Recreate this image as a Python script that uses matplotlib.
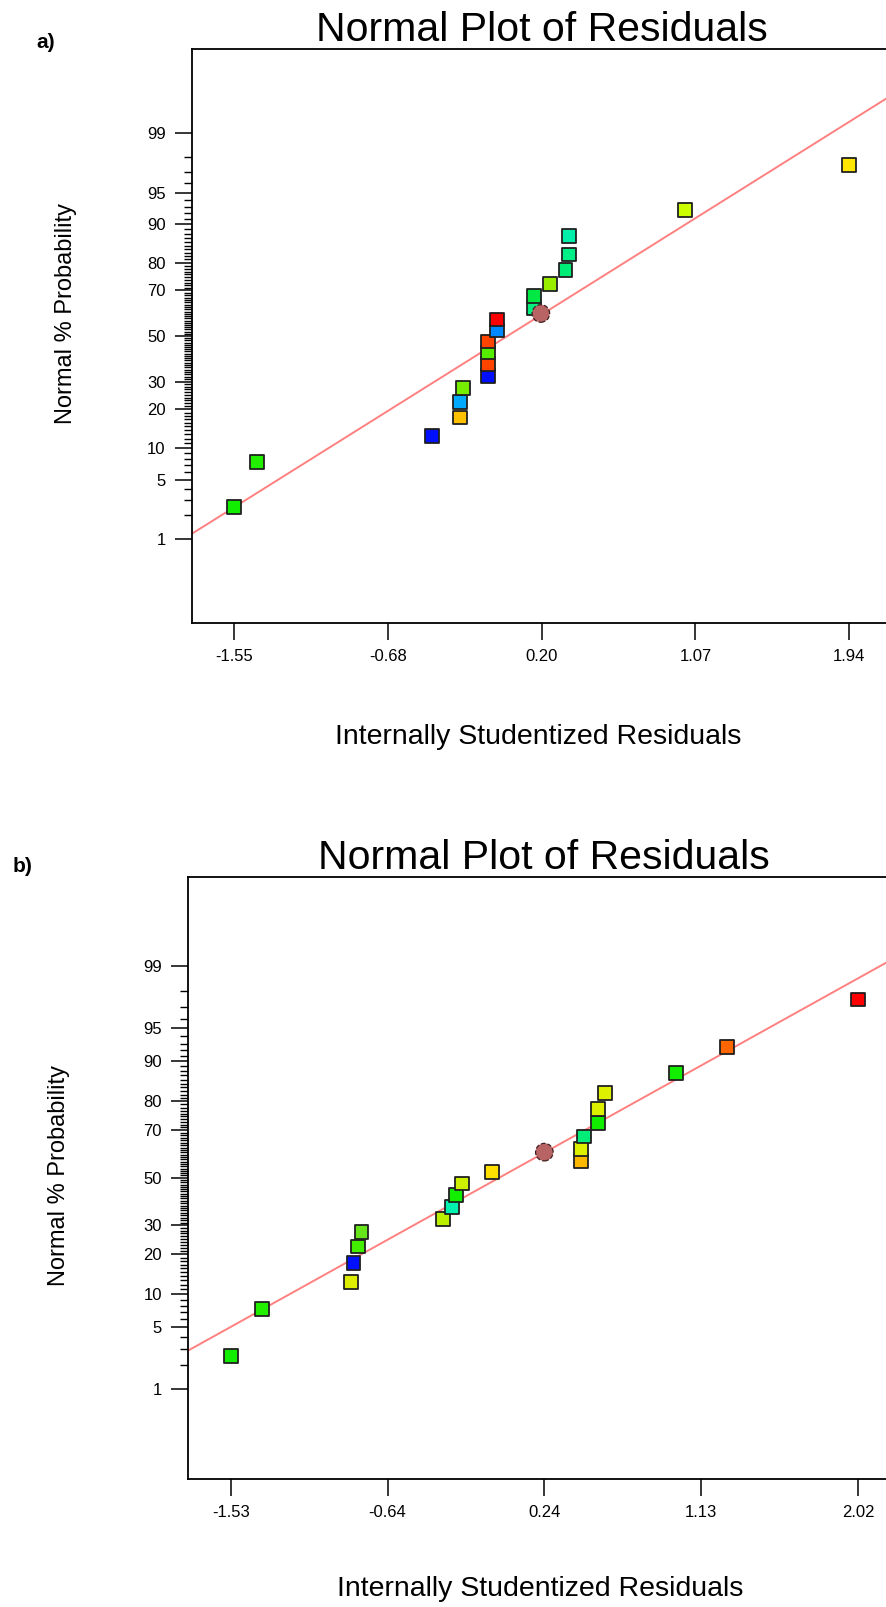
import numpy as np
import matplotlib.pyplot as plt
from statistics import NormalDist

plt.rcParams['font.family'] = ['Liberation Sans', 'DejaVu Sans']

# percent probability ticks of the normal scale
major_pct = [1, 5, 10, 20, 30, 50, 70, 80, 90, 95, 99]
major_lbl = ['1', '5', '10', '20', '30', '50', '70', '80', '90', '95', '99']

# a) studentized residuals (sorted) and run colours
res_a = [-1.55, -1.42, -0.43, -0.27, -0.27, -0.25, -0.11, -0.11, -0.11, -0.11,
         -0.06, -0.06, 0.15, 0.15, 0.24, 0.33, 0.35, 0.35, 1.01, 1.94]
col_a = ['#11ee00', '#22ee00', '#0010ff', '#ffc000', '#00aaff', '#77ee00', '#0010ff',
         '#ff4400', '#55ee00', '#ff4400', '#0088ff', '#ff0000', '#00f080', '#00e844',
         '#99ee00', '#00ee77', '#00ee88', '#00eeaa', '#ccff00', '#ffe600']
xtick_a = ['-1.55', '-0.68', '0.20', '1.07', '1.94']
circ_a = (0.19, 60.2)
fit_a = (0.0, 0.79)     # mean, sd of the reference line

# b)
res_b = [-1.53, -1.355, -0.85, -0.835, -0.81, -0.79, -0.33, -0.28, -0.255, -0.22,
         -0.05, 0.45, 0.45, 0.47, 0.55, 0.55, 0.59, 0.99, 1.28, 2.02]
col_b = ['#11ee00', '#22ee00', '#ddee00', '#0010ff', '#44ee00', '#66e61a', '#bbf000',
         '#00f0b0', '#11ee00', '#ccf000', '#ffe000', '#ffb800', '#ddf000', '#00ee77',
         '#11ee00', '#ddf000', '#ddf000', '#11ee00', '#ff6600', '#ff0000']
xtick_b = ['-1.53', '-0.64', '0.24', '1.13', '2.02']
circ_b = (0.245, 61.1)
fit_b = (-0.011, 0.926)

nd = NormalDist()


def z(p):
    return np.array([nd.inv_cdf(v / 100.0) for v in np.atleast_1d(p)])


def panel(ax, res, cols, xlabels, circ, fit, zlim, pad_x, title_pad):
    n = len(res)
    pct = (np.arange(1, n + 1) - 0.5) / n * 100
    xt = np.linspace(res[0], res[-1], 5)
    xmin, xmax = res[0] - pad_x, res[-1] + pad_x

    xl = np.array([xmin, xmax])
    ax.plot(xl, (xl - fit[0]) / fit[1], color='#ff8080', lw=1.4, zorder=2)
    ax.scatter(res, z(pct), marker='s', s=100, c=cols, edgecolors='#202020',
               linewidths=1.3, zorder=3)
    ax.scatter([circ[0]], z(circ[1]), marker='o', s=160, c='#b86464',
               edgecolors='#402020', linewidths=0.9, linestyle='--', zorder=4)

    ax.set_xlim(xmin, xmax)
    ax.set_ylim(-zlim, zlim)
    ax.set_xticks(xt)
    ax.set_xticklabels(xlabels)
    ax.set_yticks(z(major_pct))
    ax.set_yticklabels(major_lbl)
    minor = [p for p in range(2, 99) if p not in major_pct]
    ax.set_yticks(z(minor), minor=True)
    ax.tick_params(axis='both', which='major', length=12, width=1.1, pad=7,
                   labelsize=12, direction='out')
    ax.tick_params(axis='y', which='minor', length=6, width=1.0, direction='out')
    ax.spines['right'].set_visible(False)
    for s in ['left', 'bottom', 'top']:
        ax.spines[s].set_linewidth(1.3)
    ax.set_title('Normal Plot of Residuals', fontsize=29.5, pad=title_pad)
    ax.set_xlabel('Internally Studentized Residuals', fontsize=20.5)
    ax.set_ylabel('Normal % Probability', fontsize=17)


fig = plt.figure(figsize=(8.86, 16.07), dpi=100)

ax1 = fig.add_axes([0.2167, 0.6123, 0.7895, 0.3572])
panel(ax1, res_a, col_a, xtick_a, circ_a, fit_a, 3.29, 0.24, 4.5)
ax1.yaxis.set_label_coords(-0.164, 0.54)
ax1.xaxis.set_label_coords(0.495, -0.176)

ax2 = fig.add_axes([0.2125, 0.0798, 0.8038, 0.3746])
panel(ax2, res_b, col_b, xtick_b, circ_b, fit_b, 3.31, 0.24, 3.5)
ax2.yaxis.set_label_coords(-0.166, 0.503)
ax2.xaxis.set_label_coords(0.494, -0.161)

fig.text(46 / 886, 1 - 43 / 1607, 'a)', fontsize=15, fontweight='bold',
         ha='center', va='center')
fig.text(23 / 886, 1 - 866 / 1607, 'b)', fontsize=15, fontweight='bold',
         ha='center', va='center')

fig.savefig('out.png', dpi=100)
